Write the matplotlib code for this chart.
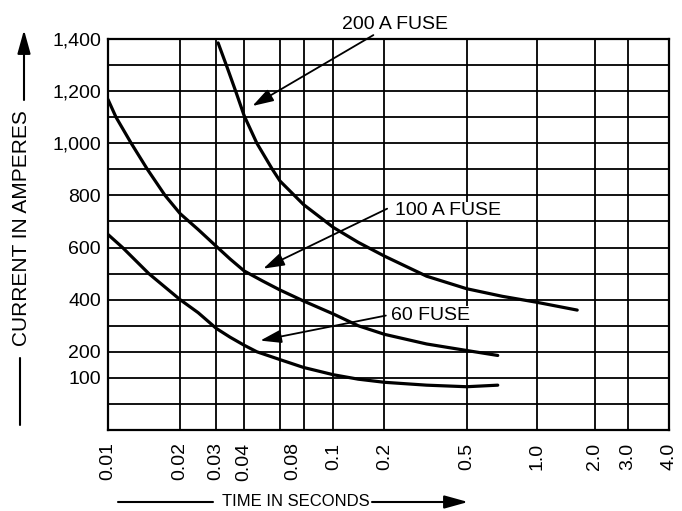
import numpy as np
import matplotlib
matplotlib.use("Agg")
import matplotlib.pyplot as plt

plt.rcParams['font.family'] = ['Liberation Sans', 'DejaVu Sans']

# ---------------- data ----------------
tick_times = [0.01, 0.02, 0.03, 0.04, 0.08, 0.1, 0.2, 0.5, 1.0, 2.0, 3.0, 4.0]
tick_labels = ['0.01', '0.02', '0.03', '0.04', '0.08', '0.1', '0.2', '0.5',
               '1.0', '2.0', '3.0', '4.0']
amp_ticks = [100, 200, 400, 600, 800, 1000, 1200, 1400]
amp_labels = ['100', '200', '400', '600', '800', '1,000', '1,200', '1,400']

fuse60_t = [0.01, 0.0115, 0.0148, 0.02, 0.0245, 0.03, 0.0346, 0.04, 0.048, 0.067, 0.085,
            0.1, 0.14, 0.2, 0.32, 0.5, 0.68]
fuse60_a = [650, 600, 500, 400, 350, 290, 256, 225, 200, 170, 140,
            112, 95, 83, 72, 66, 72]

fuse100_t = [0.01, 0.0108, 0.0125, 0.0146, 0.0173, 0.02, 0.0245, 0.03, 0.0346, 0.04, 0.052,
             0.067, 0.085, 0.1, 0.14, 0.2, 0.32, 0.5, 0.68]
fuse100_a = [1168, 1100, 1000, 900, 800, 730, 669, 605, 556, 510, 472,
             437, 395, 345, 300, 267, 230, 205, 186]

fuse200_t = [0.0306, 0.0336, 0.0368, 0.04, 0.048, 0.06, 0.067, 0.085, 0.1, 0.14, 0.2,
             0.32, 0.5, 0.71, 1.0, 1.62]
fuse200_a = [1385, 1290, 1195, 1105, 1000, 900, 855, 765, 677, 620, 567,
             490, 442, 413, 390, 360]

# ---------------- layout (non-uniform time scale of the original chart) ----------------
knot_pos = np.array([0, 72, 108, 136, 184, 225, 276, 358, 428, 486, 519, 560], float)
grid_pos = [0, 72, 108, 136, 172, 196, 225, 276, 358, 428, 486, 519, 560]
log_knots = np.log10(np.array(tick_times))


def fwd(t):
    t = np.asarray(t, float)
    return np.interp(np.log10(np.clip(t, 1e-6, None)), log_knots, knot_pos)


def inv(p):
    p = np.asarray(p, float)
    return 10 ** np.interp(p, knot_pos, log_knots)


W, H = 682, 511
fig = plt.figure(figsize=(W / 100, H / 100), dpi=100)
ax = fig.add_axes([108 / W, 1 - 430 / H, 561 / W, 391 / H])
ax.set_xscale('function', functions=(fwd, inv))
ax.set_xlim(0.01, 4.0)
ax.set_ylim(-100, 1400)

for p in grid_pos:
    ax.axvline(float(inv(p)), color='black', lw=1.3, zorder=1)
for yv in range(-100, 1401, 100):
    ax.axhline(yv, color='black', lw=1.3, zorder=1)

for s in ax.spines.values():
    s.set_linewidth(1.6)

ax.set_xticks(tick_times)
ax.set_xticklabels(tick_labels, rotation=90, fontsize=14)
ax.set_yticks(amp_ticks)
ax.set_yticklabels(amp_labels, fontsize=14)
ax.xaxis.set_minor_locator(matplotlib.ticker.NullLocator())
ax.tick_params(axis='both', length=0)
ax.tick_params(axis='x', pad=9)
ax.tick_params(axis='y', pad=5)

for tt, aa in [(fuse60_t, fuse60_a), (fuse100_t, fuse100_a), (fuse200_t, fuse200_a)]:
    ax.plot(tt, aa, color='black', lw=2.3, solid_capstyle='round',
            solid_joinstyle='round', zorder=3)

arrow = dict(arrowstyle='-|>,head_length=0.8,head_width=0.25', color='black',
             lw=1.3, mutation_scale=16, shrinkA=0, shrinkB=0)

ax.annotate('', xy=(0.045, 1143), xytext=(0.172, 1415), arrowprops=arrow,
            annotation_clip=False, zorder=4)
ax.text(0.112, 1454, '200 A FUSE', fontsize=14, ha='left', va='center', clip_on=False)

ax.annotate('', xy=(0.0526, 519), xytext=(0.206, 749), arrowprops=arrow, zorder=4)
ax.text(0.225, 741, '100 A FUSE', fontsize=14, ha='left', va='center',
        bbox=dict(facecolor='white', edgecolor='none', pad=0.5), zorder=4)

ax.annotate('', xy=(0.0504, 243), xytext=(0.203, 339), arrowprops=arrow, zorder=4)
ax.text(0.216, 339, '60 FUSE', fontsize=14, ha='left', va='center',
        bbox=dict(facecolor='white', edgecolor='none', pad=0.5), zorder=4)

# axis titles with their arrows
fig.text(22 / W, 1 - 228 / H, 'CURRENT IN AMPERES', rotation=90, fontsize=15,
         ha='center', va='center')
fig_arrow = dict(arrowstyle='-|>,head_length=0.9,head_width=0.25', color='black',
                 lw=1.5, mutation_scale=16, shrinkA=0, shrinkB=0)
ax.annotate('', xy=(24, H - 30), xytext=(24, H - 100), xycoords='figure pixels',
            textcoords='figure pixels', arrowprops=fig_arrow, annotation_clip=False)
ax.annotate('', xy=(20, H - 425), xytext=(20, H - 358), xycoords='figure pixels',
            textcoords='figure pixels',
            arrowprops=dict(arrowstyle='-', color='black', lw=1.5, shrinkA=0, shrinkB=0),
            annotation_clip=False)

fig.text(296 / W, 1 - 502 / H, 'TIME IN SECONDS', fontsize=12, ha='center', va='center')
ax.annotate('', xy=(213, H - 502), xytext=(118, H - 502), xycoords='figure pixels',
            textcoords='figure pixels',
            arrowprops=dict(arrowstyle='-', color='black', lw=1.5, shrinkA=0, shrinkB=0),
            annotation_clip=False)
ax.annotate('', xy=(468, H - 502), xytext=(372, H - 502), xycoords='figure pixels',
            textcoords='figure pixels', arrowprops=fig_arrow, annotation_clip=False)

fig.savefig('out.png', dpi=100, facecolor='white')
